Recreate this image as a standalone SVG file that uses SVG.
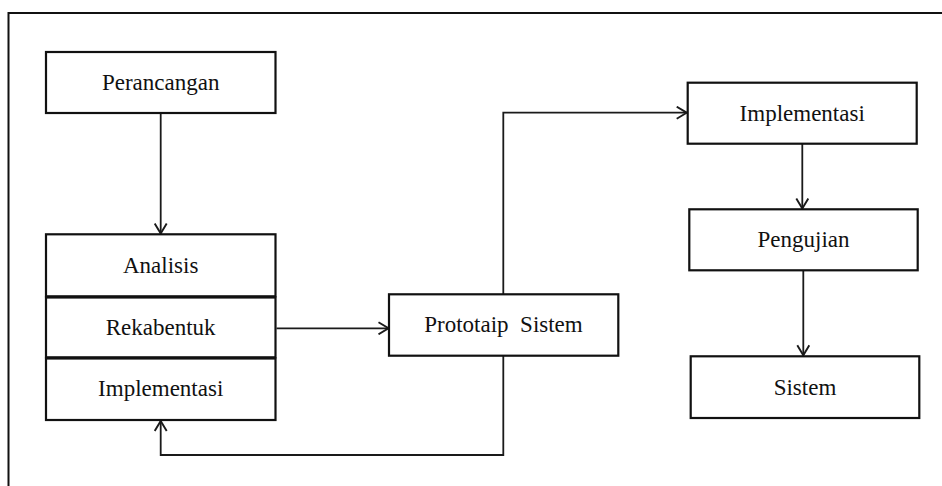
<svg xmlns="http://www.w3.org/2000/svg" width="942" height="486" viewBox="0 0 942 486">
  <style>
    .box { fill: #ffffff; stroke: #111111; stroke-width: 2.2; }
    .lbl { font-family: "Liberation Serif", "Times New Roman", serif; font-size: 23px; fill: #111111; text-anchor: middle; white-space: pre; }
    .edge { fill: none; stroke: #1a1a1a; stroke-width: 1.8; }
    .frame { fill: none; stroke: #111111; stroke-width: 2; }
  </style>
  <defs>
    <marker id="arrow" viewBox="0 0 12 14" refX="11" refY="7" markerWidth="12" markerHeight="14" markerUnits="userSpaceOnUse" orient="auto">
      <path d="M1,1 L11,7 L1,13" fill="none" stroke="#1a1a1a" stroke-width="1.9"/>
    </marker>
  </defs>

  <rect width="942" height="486" fill="#ffffff"/>
  <!-- outer frame: top and left edges only -->
  <path class="frame" d="M8.5,486 V13 H942"/>

  <g id="connectors">
    <path class="edge" d="M160.7,113 V233.5" marker-end="url(#arrow)"/>
    <path class="edge" d="M276.5,328.3 H388.5" marker-end="url(#arrow)"/>
    <path class="edge" d="M503.3,294.3 V112.7 H686.7" marker-end="url(#arrow)"/>
    <path class="edge" d="M503.3,356 V455 H160.7 V421" marker-end="url(#arrow)"/>
    <path class="edge" d="M802.3,144 V208.5" marker-end="url(#arrow)"/>
    <path class="edge" d="M803.3,270.5 V355.3" marker-end="url(#arrow)"/>
  </g>

  <g id="perancangan">
    <rect class="box" x="46" y="52" width="229.5" height="61"/>
    <text class="lbl" x="160.7" y="90">Perancangan</text>
  </g>

  <g id="analisis">
    <rect class="box" x="46" y="234.3" width="229.5" height="62"/>
    <text class="lbl" x="160.7" y="272.7">Analisis</text>
  </g>

  <g id="rekabentuk">
    <rect class="box" x="46" y="297.5" width="229.5" height="59.8"/>
    <text class="lbl" x="160.7" y="335">Rekabentuk</text>
  </g>

  <g id="implementasi-kiri">
    <rect class="box" x="46" y="358.5" width="229.5" height="61.5"/>
    <text class="lbl" x="160.7" y="395.7">Implementasi</text>
  </g>

  <g id="prototaip-sistem">
    <rect class="box" x="389" y="294.3" width="229.3" height="61.4"/>
    <text class="lbl" x="503.5" y="332.3">Prototaip  Sistem</text>
  </g>

  <g id="implementasi-kanan">
    <rect class="box" x="687.7" y="82.7" width="229" height="61"/>
    <text class="lbl" x="802.2" y="121">Implementasi</text>
  </g>

  <g id="pengujian">
    <rect class="box" x="689.3" y="209.3" width="228.4" height="61"/>
    <text class="lbl" x="803.5" y="247">Pengujian</text>
  </g>

  <g id="sistem">
    <rect class="box" x="690.7" y="356.3" width="228.6" height="61.7"/>
    <text class="lbl" x="805" y="394.5">Sistem</text>
  </g>
</svg>
